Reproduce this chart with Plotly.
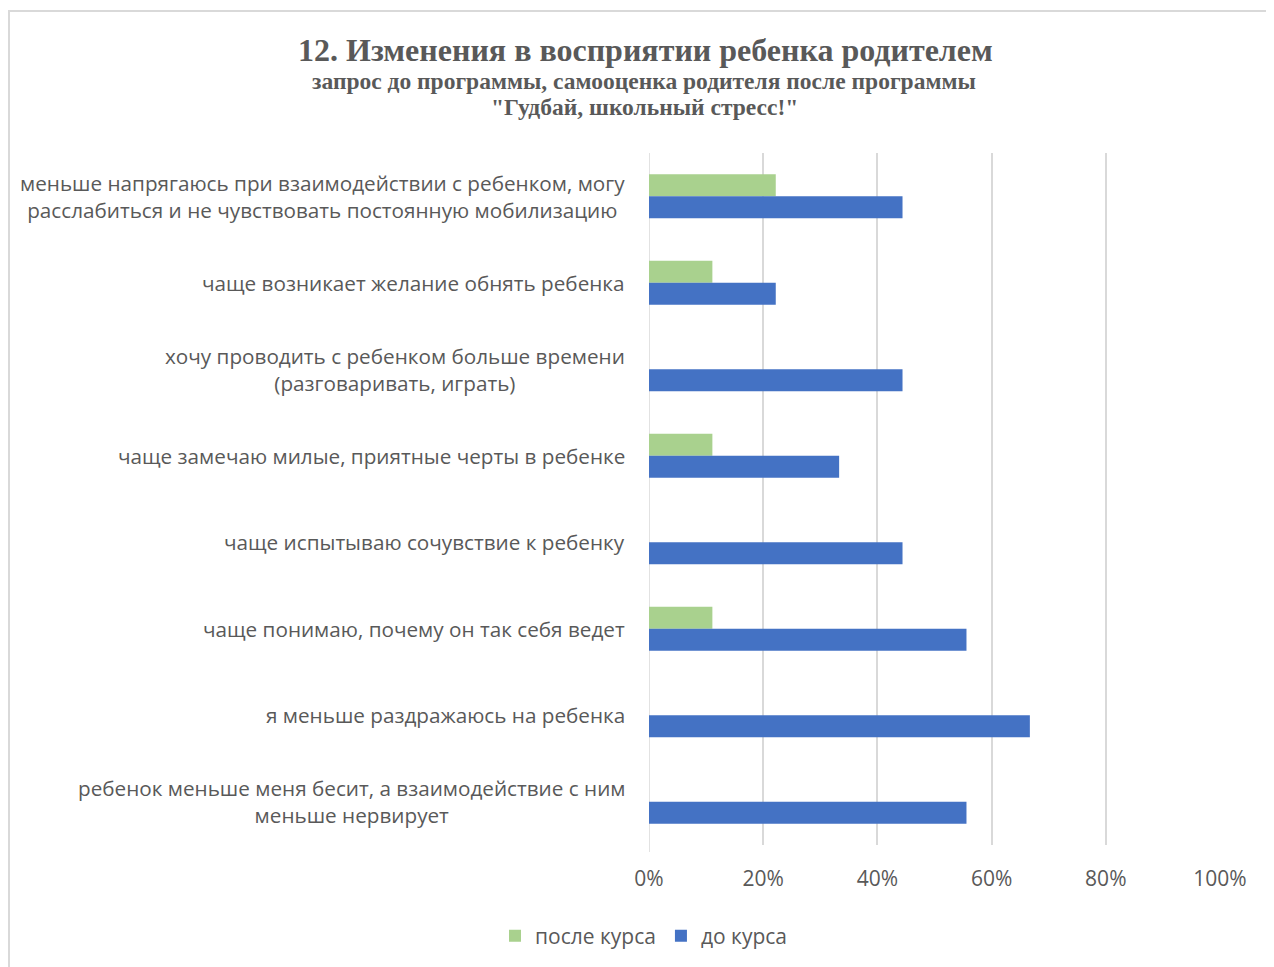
import plotly.graph_objects as go

categories = [
    "меньше напрягаюсь при взаимодействии с ребенком, могу<br>расслабиться и не чувствовать постоянную мобилизацию",
    "чаще возникает желание обнять ребенка",
    "хочу проводить с ребенком больше времени<br>(разговаривать, играть)",
    "чаще замечаю милые, приятные черты в ребенке",
    "чаще испытываю сочувствие к ребенку",
    "чаще понимаю, почему он так себя ведет",
    "я меньше раздражаюсь на ребенка",
    "ребенок меньше меня бесит, а взаимодействие с ним<br>меньше нервирует",
]
after_course = [0.222, 0.111, 0.0, 0.111, 0.0, 0.111, 0.0, 0.0]
before_course = [0.444, 0.222, 0.444, 0.333, 0.444, 0.556, 0.667, 0.556]
tick_vals = [0, 0.2, 0.4, 0.6, 0.8, 1.0]
tick_text = ["0%", "20%", "40%", "60%", "80%", "100%"]

title_main = "12. Изменения в восприятии ребенка родителем"
title_sub1 = "запрос до программы, самооценка родителя после программы"
title_sub2 = "\"Гудбай, школьный стресс!\""

W, H = 1274, 967
OFF = 8  # page offset of the figure
ML, PW = 649 - OFF, 571
MT, PH = 153 - OFF, 692
MR = W - ML - PW
MB = H - MT - PH

def px(x):
    return (x - OFF - ML) / PW

def py(y):
    return (MT + PH - (y - OFF)) / PH

label_font = "Open Sans, Calibri, sans-serif"
serif = "Liberation Serif, Times New Roman, serif"
grey = "#595959"

fig = go.Figure()
fig.add_trace(go.Bar(y=categories, x=after_course, orientation="h", name="после курса",
                     marker=dict(color="#A9D18E", line=dict(width=0))))
fig.add_trace(go.Bar(y=categories, x=before_course, orientation="h", name="до курса",
                     marker=dict(color="#4472C4", line=dict(width=0))))

annotations = []
for c in categories:
    annotations.append(dict(x=px(627), y=c, xref="paper", yref="y", text=c, showarrow=False,
                            xanchor="right", yanchor="middle", align="center",
                            font=dict(family=label_font, size=20.7, color=grey)))
annotations.append(dict(x=px(645), y=py(50), xref="paper", yref="paper", text="<b>" + title_main + "</b>",
                        showarrow=False, xanchor="center", yanchor="middle",
                        font=dict(family=serif, size=32, color=grey)))
annotations.append(dict(x=px(644), y=py(81), xref="paper", yref="paper", text="<b>" + title_sub1 + "</b>",
                        showarrow=False, xanchor="center", yanchor="middle",
                        font=dict(family=serif, size=23.5, color=grey)))
annotations.append(dict(x=px(644), y=py(107), xref="paper", yref="paper", text="<b>" + title_sub2 + "</b>",
                        showarrow=False, xanchor="center", yanchor="middle",
                        font=dict(family=serif, size=23.5, color=grey)))

fig.update_layout(
    width=W, height=H,
    margin=dict(l=ML, r=MR, t=MT, b=MB, pad=0),
    paper_bgcolor="white", plot_bgcolor="white",
    barmode="group", bargap=0.49, bargroupgap=0,
    showlegend=True,
    legend=dict(orientation="h", x=px(644), y=py(936), xanchor="center", yanchor="middle",
                font=dict(family=label_font, size=21, color=grey), traceorder="normal",
                itemwidth=30),
    annotations=annotations,
    shapes=[dict(type="rect", xref="paper", yref="paper", x0=px(9), x1=px(1290), y0=py(990), y1=py(11),
                 line=dict(color="#D9D9D9", width=2), fillcolor="rgba(0,0,0,0)", layer="below")],
)
fig.update_xaxes(range=[0, 1], tickvals=tick_vals, ticktext=tick_text, showgrid=True,
                 gridcolor="#D9D9D9", gridwidth=1.5, zeroline=False, showline=False,
                 ticks="outside", ticklen=15, tickcolor="rgba(0,0,0,0)",
                 tickfont=dict(family=label_font, size=21, color=grey), fixedrange=True)
fig.update_yaxes(autorange="reversed", showticklabels=False, showgrid=False, zeroline=False,
                 showline=False, ticks="")
fig.add_shape(type="line", xref="x", yref="paper", x0=0, x1=0, y0=-0.01, y1=1,
              line=dict(color="#D9D9D9", width=1.5), layer="below")

fig.write_html("out.html")
